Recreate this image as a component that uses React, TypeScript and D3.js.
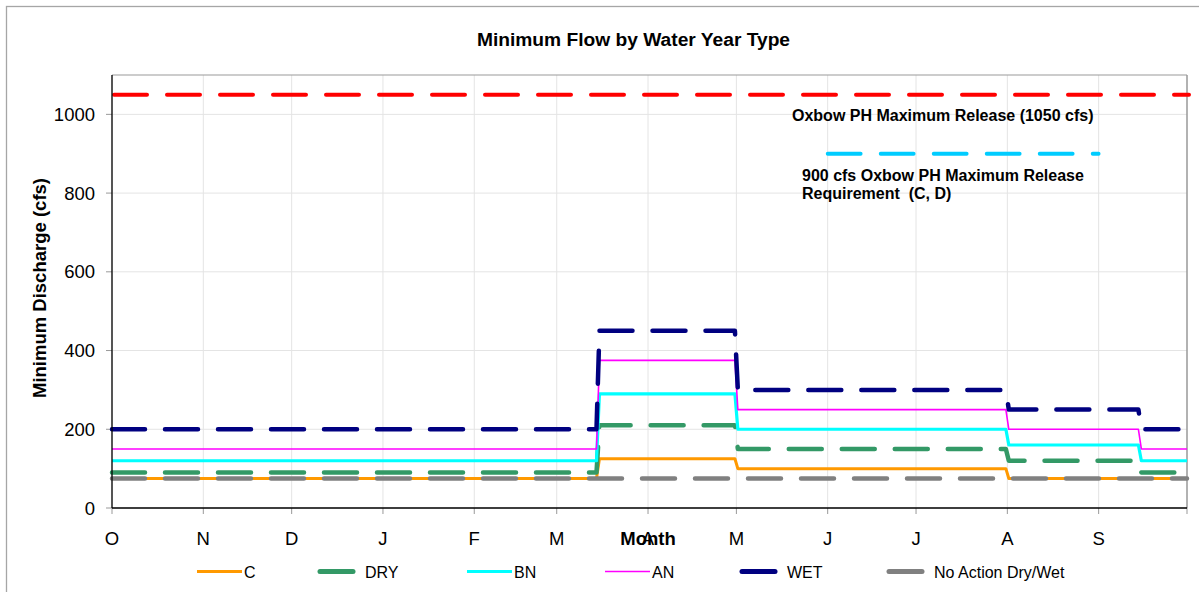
import React from "react";
import * as d3 from "d3";

// ---- DATA ----
const monthLabels = ["O", "N", "D", "J", "F", "M", "A", "M", "J", "J", "A", "S"];
const yTicks = [0, 200, 400, 600, 800, 1000];
// Start dates of the flow periods (water year Oct 1 – Sep 30)
const periodStarts = ["2006-10-01", "2007-03-15", "2007-05-01", "2007-08-01", "2007-09-15"];
const seriesNames = ["C", "DRY", "BN", "AN", "WET", "No Action Dry/Wet"];
const cValues = [75, 125, 100, 75, 75];
const dryValues = [90, 210, 150, 120, 90];
const bnValues = [120, 290, 200, 160, 120];
const anValues = [150, 375, 250, 200, 150];
const wetValues = [200, 450, 300, 250, 200];
const noActionValues = [75, 75, 75, 75, 75];
const oxbowMaxRelease = 1050;
const requirementValue = 900;
const requirementSpan = ["2007-06-01", "2007-09-01"];
const titleText = "Minimum Flow by Water Year Type";
const yTitle = "Minimum Discharge (cfs)";
const xTitle = "Month";
const oxbowLabel = "Oxbow PH Maximum Release (1050 cfs)";
const reqLabelLines = ["900 cfs Oxbow PH Maximum Release", "Requirement  (C, D)"];

// ---- STYLES / LAYOUT ----
const W = 1199, H = 592;
const plot = { left: 112, right: 1187, top: 75, bottom: 508 };
const FONT = "'Liberation Sans', Arial, Helvetica, sans-serif";
const seriesStyle = [
  { color: "#FF9900", width: 3, dashed: false },
  { color: "#339966", width: 4.5, dashed: true },
  { color: "#00FFFF", width: 3.2, dashed: false },
  { color: "#FF00FF", width: 1.6, dashed: false },
  { color: "#000080", width: 4.5, dashed: true },
  { color: "#808080", width: 4.5, dashed: true },
];
const legendX = [197, 318, 467, 605, 740, 887];
const DASH = "33 20";

const parse = d3.timeParse("%Y-%m-%d");

export default function App() {
  const start = parse("2006-10-01")!;
  const end = parse("2007-10-01")!;
  const x = d3.scaleTime().domain([start, end]).range([plot.left, plot.right]);
  const y = d3.scaleLinear().domain([0, 1100]).range([plot.bottom, plot.top]);
  const months = d3.timeMonth.range(start, end);
  const starts = periodStarts.map((s) => parse(s)!);
  const half = 12 * 3600 * 1000;

  const stepPoints = (vals: number[]): [Date, number][] => {
    const pts: [Date, number][] = [];
    vals.forEach((v, i) => {
      const x0 = i === 0 ? start : new Date(starts[i].getTime() + half);
      const x1 = i === vals.length - 1 ? end : new Date(starts[i + 1].getTime() - half);
      pts.push([x0, v], [x1, v]);
    });
    return pts;
  };
  const line = d3
    .line<[Date, number]>()
    .x((d) => x(d[0]))
    .y((d) => y(d[1]));

  const allValues = [cValues, dryValues, bnValues, anValues, wetValues, noActionValues];

  return (
    <svg
      width={W}
      height={H}
      style={{ position: "absolute", left: 0, top: 0, background: "#fff" }}
      fontFamily={FONT}
    >
      <rect x={6.5} y={6.5} width={1210} height={620} fill="#fff" stroke="#A6A6A6" strokeWidth={1.3} />
      {/* gridlines */}
      {yTicks.map((t) => (
        <line key={"hg" + t} x1={plot.left} x2={plot.right} y1={y(t)} y2={y(t)} stroke="#E4E4E4" strokeWidth={1} />
      ))}
      {months.map((m, i) => (
        <line key={"vg" + i} x1={x(m)} x2={x(m)} y1={plot.top} y2={plot.bottom} stroke="#E4E4E4" strokeWidth={1} />
      ))}
      {/* plot border */}
      <line x1={plot.left} x2={plot.right} y1={plot.top} y2={plot.top} stroke="#999" strokeWidth={1.2} />
      <line x1={plot.right} x2={plot.right} y1={plot.top} y2={plot.bottom} stroke="#999" strokeWidth={1.5} />
      {/* y ticks */}
      {yTicks.map((t) => (
        <g key={"yt" + t}>
          <line x1={plot.left - 6} x2={plot.left} y1={y(t)} y2={y(t)} stroke="#999" />
          <text x={95} y={y(t)} dy="0.36em" textAnchor="end" fontSize={18.5} fill="#000">
            {t}
          </text>
        </g>
      ))}
      {/* x ticks */}
      {[...months, end].map((m, i) => (
        <line key={"xt" + i} x1={x(m)} x2={x(m)} y1={plot.bottom} y2={plot.bottom + 6} stroke="#999" />
      ))}
      {months.map((m, i) => (
        <text key={"xl" + i} x={x(m)} y={545} textAnchor="middle" fontSize={18.5} fill="#000">
          {monthLabels[i]}
        </text>
      ))}
      {/* series */}
      {allValues.map((vals, i) => (
        <path
          key={"s" + i}
          d={line(stepPoints(vals)) || ""}
          fill="none"
          stroke={seriesStyle[i].color}
          strokeWidth={seriesStyle[i].width}
          strokeDasharray={seriesStyle[i].dashed ? DASH : undefined}
          strokeLinecap={seriesStyle[i].dashed ? "round" : "butt"}
          strokeLinejoin="round"
        />
      ))}
      {/* Oxbow max release */}
      <path
        d={line([[start, oxbowMaxRelease], [end, oxbowMaxRelease]]) || ""}
        fill="none"
        stroke="#FF0000"
        strokeWidth={4}
        strokeDasharray={DASH}
        strokeLinecap="round"
        transform="translate(2,0)"
      />
      <path
        d={line([[parse(requirementSpan[0])!, requirementValue], [parse(requirementSpan[1])!, requirementValue]]) || ""}
        fill="none"
        stroke="#00CCFF"
        strokeWidth={3.8}
        strokeDasharray={DASH}
        strokeLinecap="round"
      />
      {/* axes */}
      <line x1={plot.left} x2={plot.left} y1={plot.top} y2={plot.bottom} stroke="#000" strokeWidth={1.3} />
      <line x1={plot.left} x2={plot.right} y1={plot.bottom} y2={plot.bottom} stroke="#000" strokeWidth={1.5} />
      {/* annotations */}
      <text x={792} y={121} fontSize={16} fontWeight="bold" fill="#000">
        {oxbowLabel}
      </text>
      {reqLabelLines.map((l, i) => (
        <text
          key={"rl" + i}
          x={802}
          y={181 + i * 18}
          fontSize={16}
          fontWeight="bold"
          fill="#000"
          style={{ whiteSpace: "pre" }}
          xmlSpace="preserve"
        >
          {l}
        </text>
      ))}
      {/* titles */}
      <text x={633.5} y={46} textAnchor="middle" fontSize={19.2} fontWeight="bold" fill="#000">
        {titleText}
      </text>
      <text transform="translate(46,288) rotate(-90)" textAnchor="middle" fontSize={18.5} fontWeight="bold" fill="#000">
        {yTitle}
      </text>
      <text x={648} y={545} textAnchor="middle" fontSize={18.5} fontWeight="bold" fill="#000">
        {xTitle}
      </text>
      {/* legend */}
      {seriesNames.map((n, i) => {
        const s = seriesStyle[i];
        const x0 = legendX[i];
        return (
          <g key={"lg" + i}>
            <line
              x1={s.dashed ? x0 + 2 : x0}
              x2={x0 + 45}
              y1={571.5}
              y2={571.5}
              stroke={s.color}
              strokeWidth={s.dashed ? 5 : s.width}
              strokeDasharray={s.dashed ? DASH : undefined}
              strokeLinecap={s.dashed ? "round" : "butt"}
            />
            <text x={x0 + 47} y={578} fontSize={16} fill="#000">
              {n}
            </text>
          </g>
        );
      })}
    </svg>
  );
}
